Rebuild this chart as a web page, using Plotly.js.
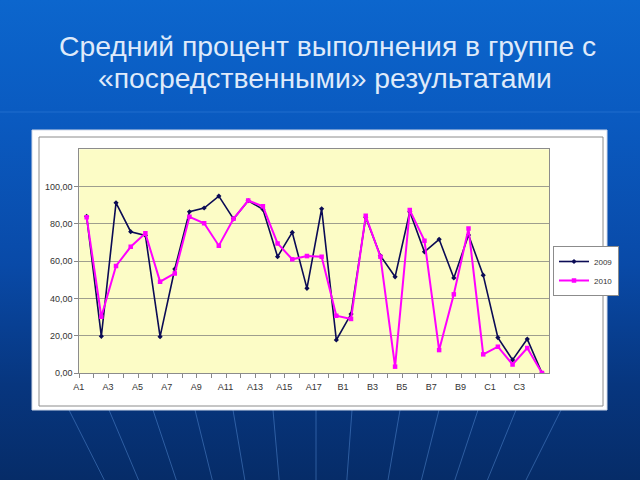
<!DOCTYPE html>
<html>
<head>
<meta charset="utf-8">
<script src="https://cdn.plot.ly/plotly-3.0.1.min.js"></script>
<style>
  html, body { margin: 0; padding: 0; width: 640px; height: 480px; overflow: hidden;
    background: linear-gradient(180deg, #0c66cd 0%, #0a5ac0 25%, #094aa8 55%, #07367f 80%, #062c68 100%); }
  #chart { width: 640px; height: 480px; }
</style>
</head>
<body>
<div id="chart"></div>
<script>
const categories = ["A1","A2","A3","A4","A5","A6","A7","A8","A9","A10","A11","A12","A13","A14","A15","A16","A17","A18",
  "B1","B2","B3","B4","B5","B6","B7","B8","B9","B10","C1","C2","C3","C4"];
const values2009 = [84, 19.7, 91.3, 75.8, 73.8, 19.5, 55.8, 86.5, 88.5, 94.9, 82.7, 92.4, 87.8, 62.4, 75.4, 45.4, 88.1, 17.7,
  31.6, 83.5, 62.9, 51.6, 86.5, 65, 71.7, 51, 74, 52.5, 19, 7, 18.2, 0];
const values2010 = [83.5, 30.2, 57.4, 67.7, 74.9, 49, 53.4, 83.8, 80.3, 68.3, 82.7, 92.5, 89.4, 69.5, 61, 62.7, 62.4, 30.7,
  29, 84.3, 62.4, 3.4, 87.4, 71, 12.3, 42.2, 77.5, 10, 14.1, 4.6, 13.4, 0];
const seriesNames = ["2009", "2010"];
const yTickVals = [0, 20, 40, 60, 80, 100];
const yTickText = ["0,00", "20,00", "40,00", "60,00", "80,00", "100,00"];
const titleLines = ["Средний процент выполнения в группе с", "«посредственными» результатами"];

const W = 640, H = 480;
const px = x => x / W;
const py = y => 1 - y / H;

const traces = [
  { x: categories, y: values2009, name: seriesNames[0], type: "scatter", mode: "lines+markers",
    line: { color: "#0b0b55", width: 1.6 }, marker: { symbol: "diamond", size: 4, color: "#0b0b55" } },
  { x: categories, y: values2010, name: seriesNames[1], type: "scatter", mode: "lines+markers",
    line: { color: "#ff00ff", width: 2 }, marker: { symbol: "square", size: 4.5, color: "#ff00ff" } }
];

// decorative background lines
const shapes = [];
const topXs = [69, 109, 153, 195, 233, 273, 316, 352, 400, 439, 478, 516, 561];
const vp = { x: 316, y: 900 };
topXs.forEach(xt => {
  const t = (480 - 410) / (vp.y - 410);
  const xb = xt + (vp.x - xt) * t;
  shapes.push({ type: "line", xref: "paper", yref: "paper", x0: px(xt), y0: py(410), x1: px(xb), y1: py(480),
    line: { color: "rgba(120,180,255,0.35)", width: 1 }, layer: "below" });
});
[112].forEach(yy => shapes.push({ type: "line", xref: "paper", yref: "paper", x0: 0, x1: 1, y0: py(yy), y1: py(yy),
  line: { color: "rgba(120,180,255,0.2)", width: 1 }, layer: "below" }));
// white panel
shapes.push({ type: "rect", xref: "paper", yref: "paper", x0: px(32), x1: px(607), y0: py(410), y1: py(130),
  fillcolor: "#ffffff", line: { color: "#d0d8e8", width: 1 }, layer: "below" });
shapes.push({ type: "rect", xref: "paper", yref: "paper", x0: px(39), x1: px(603), y0: py(406), y1: py(137),
  fillcolor: "rgba(0,0,0,0)", line: { color: "#8c8c8c", width: 1 }, layer: "below" });
// plot area fill (yellow)
shapes.push({ type: "rect", xref: "x domain", yref: "y domain", x0: 0, x1: 1, y0: 0, y1: 1,
  fillcolor: "#fcfcc6", line: { width: 0 }, layer: "below" });

const annotations = [
  { text: titleLines[0], xref: "paper", yref: "paper", x: px(327), y: py(46), xanchor: "center", yanchor: "middle",
    showarrow: false, font: { family: "Liberation Sans, Arial, sans-serif", size: 28.3, color: "#dfeafa" } },
  { text: titleLines[1], xref: "paper", yref: "paper", x: px(325), y: py(78), xanchor: "center", yanchor: "middle",
    showarrow: false, font: { family: "Liberation Sans, Arial, sans-serif", size: 28.3, color: "#dfeafa" } }
];

const layout = {
  width: W, height: H,
  margin: { l: 0, r: 0, t: 0, b: 0 },
  paper_bgcolor: "rgba(0,0,0,0)",
  plot_bgcolor: "#fcfcc6",
  font: { family: "Liberation Sans, Arial, sans-serif", color: "#333333", size: 9 },
  xaxis: {
    type: "category", domain: [px(79.3), px(549.3)], range: [-0.5, 31.5],
    tickson: "boundaries", ticks: "outside", ticklen: 4, tickcolor: "#888888",
    ticklabelstep: 2, ticklabelshift: -8, ticklabelstandoff: 5, tickangle: 0, showgrid: false,
    showline: true, linecolor: "#8c8c8c", linewidth: 1, mirror: true,
    tickfont: { size: 9, color: "#333333" }, fixedrange: true
  },
  yaxis: {
    domain: [py(373), py(149.3)], range: [0, 120],
    tickvals: yTickVals, ticktext: yTickText, ticks: "outside", ticklen: 4, tickcolor: "#888888",
    showgrid: true, gridcolor: "#9e9e8e", gridwidth: 1, zeroline: false,
    showline: true, linecolor: "#8c8c8c", linewidth: 1, mirror: true,
    tickfont: { size: 9, color: "#333333" }, fixedrange: true
  },
  showlegend: true,
  legend: { x: px(553), y: py(246), xanchor: "left", yanchor: "top",
    bgcolor: "#ffffff", bordercolor: "#8c8c8c", borderwidth: 1,
    font: { size: 8, color: "#333333" }, itemwidth: 30, tracegroupgap: 0 },
  shapes: shapes,
  annotations: annotations
};

Plotly.newPlot("chart", traces, layout, { displayModeBar: false, staticPlot: true });
</script>
</body>
</html>
